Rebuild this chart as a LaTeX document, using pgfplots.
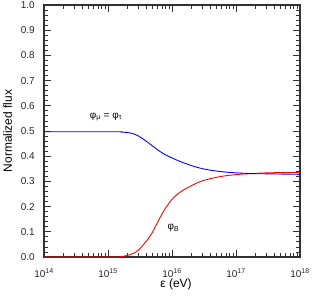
\documentclass[border=0pt]{standalone}
\usepackage{fontspec}
\setmainfont{Liberation Sans}
\usepackage{pgfplots}
\pgfplotsset{compat=1.18}
\definecolor{axgray}{RGB}{50,50,50}
\begin{document}
\begin{tikzpicture}
\begin{axis}[
  name=ax,
  scale only axis, width=256bp, height=252bp,
  xmode=log, xmin=1e14, xmax=1e18,
  ymin=0, ymax=1,
  xtick={1e14,1e15,1e16,1e17,1e18},
  xticklabels={10\textsuperscript{14},10\textsuperscript{15},10\textsuperscript{16},10\textsuperscript{17},10\textsuperscript{18}},
  minor xtick={2e14,3e14,4e14,5e14,6e14,7e14,8e14,9e14,
               2e15,3e15,4e15,5e15,6e15,7e15,8e15,9e15,
               2e16,3e16,4e16,5e16,6e16,7e16,8e16,9e16,
               2e17,3e17,4e17,5e17,6e17,7e17,8e17,9e17},
  ytick={0,0.1,0.2,0.3,0.4,0.5,0.6,0.7,0.8,0.9,1.0},
  yticklabels={0.0,0.1,0.2,0.3,0.4,0.5,0.6,0.7,0.8,0.9,1.0},
  minor y tick num=4,
  tick align=inside,
  major tick length=7bp, minor tick length=4bp,
  axis line style={axgray, line width=1.6pt},
  every tick/.style={axgray, line width=0.8pt},
  ticklabel style={font=\fontsize{10}{12}\selectfont, text=black!85},
  xticklabel style={anchor=base, yshift=-20bp},
  yticklabel style={anchor=east, xshift=-5.7bp},
  label style={font=\fontsize{12}{14}\selectfont},
  xlabel={ε (eV)},
  ylabel={Normalized flux},
  xlabel style={at={(axis description cs:0.5,0)}, anchor=base, yshift=-30bp, xshift=4bp},
  ylabel style={at={(axis description cs:-0.1426,0.5)}, anchor=center, rotate=0},
  clip=false,
]
\addplot[red, line width=0.9pt, smooth, tension=0.7] coordinates {
 (1e14,0) (1.2589e15,0) (1.5849e15,0.001) (1.7378e15,0.003) (2.1878e15,0.009)
 (2.8184e15,0.022) (3.5481e15,0.048) (4.5709e15,0.084) (5.7544e15,0.130)
 (7.2444e15,0.178) (9.3325e15,0.219) (1.1749e16,0.246) (1.5136e16,0.266)
 (1.9055e16,0.280) (2.7542e16,0.299) (3.9811e16,0.311) (5.6234e16,0.319)
 (1e17,0.327) (1.7783e17,0.331) (3.1623e17,0.334) (5.6234e17,0.335) (1e18,0.336)
};
\addplot[blue, line width=0.9pt, smooth, tension=0.7] coordinates {
 (1e14,0.497) (1.2589e15,0.497) (1.5849e15,0.496) (1.9953e15,0.494) (2.6303e15,0.487)
 (3.5481e15,0.468) (5.1286e15,0.438) (7.2444e15,0.411) (1.0471e16,0.391)
 (1.5136e16,0.374) (2.4547e16,0.356) (3.8905e16,0.345) (6.3096e16,0.338)
 (1e17,0.334) (1.7783e17,0.331) (3.1623e17,0.330) (5.6234e17,0.329) (1e18,0.328)
};
\node[font=\fontsize{10}{12}\selectfont] at (axis cs:9.3e14,0.556) {φ\textsubscript{μ} = φ\textsubscript{τ}};
\node[font=\fontsize{10}{12}\selectfont] at (axis cs:1.05e16,0.115) {φ\textsubscript{B}};
\end{axis}
\pgfresetboundingbox
\useasboundingbox ([xshift=-44bp,yshift=-43bp]ax.south west) rectangle ([xshift=12bp,yshift=5bp]ax.north east);
\end{tikzpicture}
\end{document}
